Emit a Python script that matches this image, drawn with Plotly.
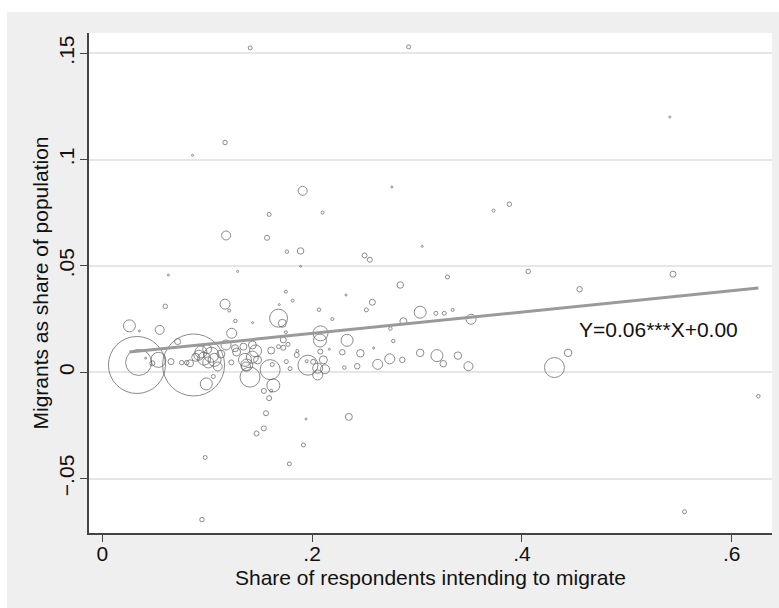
import plotly.graph_objects as go

# ---- data ----
x_share = [0.141, 0.292, 0.541, 0.117, 0.086, 0.191, 0.276, 0.159, 0.210, 0.373,
           0.388, 0.118, 0.157, 0.305, 0.176, 0.189, 0.189, 0.250, 0.255, 0.063,
           0.129, 0.329, 0.406, 0.544, 0.455, 0.284, 0.060, 0.117, 0.121, 0.175,
           0.1815, 0.1687, 0.2323, 0.2574, 0.2066, 0.2517, 0.303, 0.318, 0.326, 0.334,
           0.3515, 0.1268, 0.1433, 0.168, 0.1716, 0.2193, 0.287, 0.2746, 0.0258, 0.0353,
           0.0547, 0.1233, 0.175, 0.208, 0.2075, 0.2333, 0.2774, 0.0718, 0.1725, 0.177,
           0.0346, 0.0330, 0.0870, 0.0413, 0.0477, 0.0534, 0.0655, 0.0757, 0.0805, 0.0836,
           0.092, 0.094, 0.097, 0.101, 0.104, 0.107, 0.110, 0.0991, 0.1058, 0.1179,
           0.1265, 0.1345, 0.143, 0.123, 0.128, 0.146, 0.136, 0.137, 0.1408, 0.143,
           0.148, 0.161, 0.160, 0.163, 0.168, 0.1725, 0.162, 0.1754, 0.179, 0.1853,
           0.1859, 0.196, 0.1948, 0.201, 0.2053, 0.2078, 0.2107, 0.2123, 0.2053, 0.2164,
           0.2288, 0.2307, 0.243, 0.246, 0.2587, 0.2625, 0.274, 0.286, 0.303, 0.319,
           0.325, 0.339, 0.349, 0.431, 0.444, 0.6254, 0.154, 0.159, 0.156, 0.154,
           0.147, 0.1942, 0.235, 0.1917, 0.1783, 0.098, 0.095, 0.555, 0.161, 0.113,
           0.100, 0.089, 0.1377]
y_migrants = [0.1525, 0.153, 0.120, 0.108, 0.102, 0.0853, 0.0871, 0.0742, 0.0751, 0.076,
              0.079, 0.0643, 0.0632, 0.0592, 0.0567, 0.057, 0.0498, 0.0549, 0.0529, 0.0457,
              0.0474, 0.0448, 0.0474, 0.0461, 0.039, 0.041, 0.031, 0.032, 0.029, 0.0379,
              0.0337, 0.0318, 0.0363, 0.0329, 0.0294, 0.0293, 0.0282, 0.0277, 0.0277, 0.0293,
              0.0249, 0.0241, 0.0233, 0.0254, 0.023, 0.025, 0.024, 0.0205, 0.0218, 0.0194,
              0.0199, 0.0183, 0.0188, 0.0183, 0.0149, 0.015, 0.0147, 0.0144, 0.0152, 0.0131,
              0.0046, 0.0034, 0.0034, 0.0066, 0.0042, 0.0058, 0.005, 0.0045, 0.0045, 0.0042,
              0.008, 0.0095, 0.0064, 0.0046, 0.0082, 0.0058, 0.0027, -0.0055, -0.002, 0.0128,
              0.0113, 0.012, 0.0128, 0.0046, 0.0095, 0.010, 0.0058, 0.0027, -0.0023, 0.0071,
              0.0058, 0.0102, 0.0012, -0.0062, 0.012, 0.0115, 0.0036, 0.005, 0.0017, 0.0081,
              0.010, 0.0033, 0.0052, 0.0049, -0.0013, 0.0097, 0.0058, 0.0014, 0.0019, 0.0108,
              0.0094, 0.0022, 0.0028, 0.0089, 0.0114, 0.0037, 0.0063, 0.0058, 0.0091, 0.0078,
              0.004, 0.0078, 0.0028, 0.0022, 0.0091, -0.0113, -0.0088, -0.0122, -0.0193, -0.0264,
              -0.0288, -0.022, -0.021, -0.0342, -0.0431, -0.0401, -0.0693, -0.0656, -0.0087, 0.0085,
              0.0108, 0.007, 0.0034]
weight_diam = [4, 4, 2, 4.5, 2, 9, 2, 4, 3, 3,
               4.5, 9, 5, 2, 3.5, 6.5, 2, 5, 5, 2,
               2, 4, 4.5, 6, 5.5, 6.5, 4.5, 10, 3, 3,
               3, 2, 2, 6, 3.5, 4, 12, 4, 4, 3,
               10, 3.5, 2, 18, 8, 3, 7, 3.5, 12, 2,
               9, 10, 3, 15, 13, 12, 3.5, 6, 6, 4,
               26, 57, 62, 2, 5, 15, 6, 4.5, 4.5, 7,
               10, 12, 13, 11, 15, 13, 9, 12, 4, 10,
               7, 7, 8, 5, 8, 12, 13, 9, 20, 12,
               8, 7, 20, 13, 4, 5, 4, 4, 4, 5,
               3, 20, 3, 5, 10, 5, 8, 9, 10, 2,
               5.5, 3.5, 5.5, 7.5, 2, 10, 10, 5.5, 7.5, 12,
               6.5, 7.5, 9, 20, 7.5, 3.5, 5, 5, 5, 5,
               5, 2, 7, 4, 4, 4, 4.5, 4, 3, 8,
               9, 8, 12]

fit_slope = 0.0502
fit_intercept = 0.0082
fit_label = "Y=0.06***X+0.00"

x_ticks = [0, 0.2, 0.4, 0.6]
x_ticktext = ["0", ".2", ".4", ".6"]
y_ticks = [-0.05, 0, 0.05, 0.1, 0.15]
y_ticktext = ["\u2212.05", "0", ".05", ".1", ".15"]

FONT = "Liberation Sans, Arial, Helvetica, sans-serif"

fig = go.Figure()
fig.add_trace(go.Scatter(
    x=x_share, y=y_migrants, mode="markers",
    marker=dict(size=weight_diam, sizemode="diameter", symbol="circle",
                color="rgba(0,0,0,0)", line=dict(color="#5a5a5a", width=1)),
    showlegend=False, hoverinfo="skip"))

x_lo, x_hi = min(x_share), max(x_share)
fig.add_trace(go.Scatter(
    x=[x_lo, x_hi],
    y=[fit_intercept + fit_slope * x_lo, fit_intercept + fit_slope * x_hi],
    mode="lines", line=dict(color="#9a9a9a", width=3),
    showlegend=False, hoverinfo="skip"))

fig.add_annotation(x=0.53, y=0.0201, xref="x", yref="y", text=fit_label,
                   showarrow=False, font=dict(family=FONT, size=21, color="#111111"))

fig.update_layout(
    width=779, height=608,
    margin=dict(l=89, r=7, t=33, b=75),
    paper_bgcolor="#efefef", plot_bgcolor="#ffffff",
    font=dict(family=FONT, size=21, color="#111111"),
    shapes=[
        dict(type="rect", xref="paper", yref="paper", x0=-0.2, x1=1.1,
             y0=1.042, y1=1.2, fillcolor="#ffffff", line=dict(width=0), layer="below"),
        dict(type="rect", xref="paper", yref="paper", x0=-0.2, x1=(7 - 89) / 683,
             y0=-0.2, y1=1.2, fillcolor="#ffffff", line=dict(width=0), layer="below"),
    ],
)
fig.update_xaxes(
    range=[-0.0127, 0.6384], tickvals=x_ticks, ticktext=x_ticktext,
    showgrid=False, zeroline=False, showline=True, linecolor="#444444", linewidth=1.5,
    ticks="outside", ticklen=7, tickcolor="#444444", tickwidth=1.2,
    ticklabelstandoff=-6,
    tickfont=dict(family=FONT, size=21, color="#111111"),
    title=dict(text="Share of respondents intending to migrate", standoff=6,
               font=dict(family=FONT, size=21, color="#111111")),
    automargin=False)
fig.update_yaxes(
    range=[-0.0756, 0.1595], tickvals=y_ticks, ticktext=y_ticktext, tickangle=-90,
    showgrid=True, gridcolor="#e6e6e6", gridwidth=1.6, zeroline=False,
    showline=True, linecolor="#444444", linewidth=1.5,
    ticks="outside", ticklen=7, tickcolor="#444444", tickwidth=1.2,
    ticklabelstandoff=-2,
    tickfont=dict(family=FONT, size=21, color="#111111"),
    title=dict(text="Migrants as share of population", standoff=0,
               font=dict(family=FONT, size=21, color="#111111")),
    automargin=False)

fig.write_html("out.html")
